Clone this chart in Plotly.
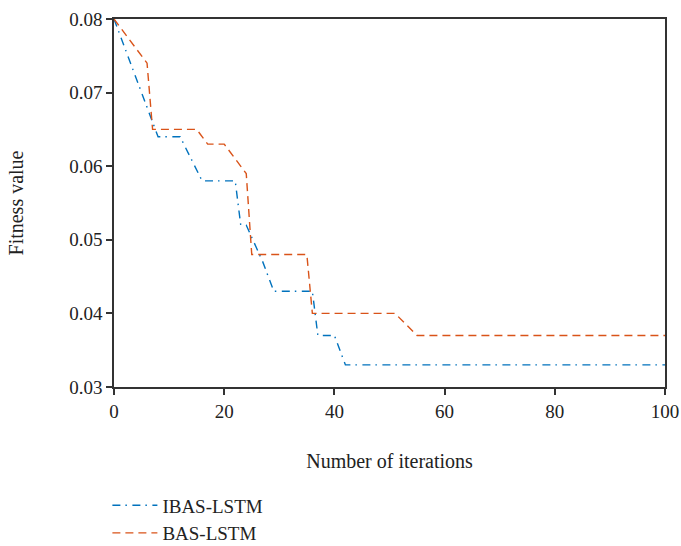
import plotly.graph_objects as go

ibas_x = [0, 8, 12, 16, 22, 23, 24, 27, 29, 36, 37, 40, 42, 100]
ibas_y = [0.080, 0.064, 0.064, 0.058, 0.058, 0.052, 0.052, 0.047, 0.043, 0.043, 0.037, 0.037, 0.033, 0.033]

bas_x = [0, 6, 7, 15, 17, 20, 24, 25, 35, 36, 51, 55, 100]
bas_y = [0.080, 0.074, 0.065, 0.065, 0.063, 0.063, 0.059, 0.048, 0.048, 0.040, 0.040, 0.037, 0.037]

x_ticks = [0, 20, 40, 60, 80, 100]
y_ticks = [0.03, 0.04, 0.05, 0.06, 0.07, 0.08]

FONT = "Liberation Serif"

fig = go.Figure()
fig.add_trace(go.Scatter(x=ibas_x, y=ibas_y, mode="lines", name="IBAS-LSTM",
                         line=dict(color="#0072BD", width=1.4, dash="8px,5px,1.5px,5.5px")))
fig.add_trace(go.Scatter(x=bas_x, y=bas_y, mode="lines", name="BAS-LSTM",
                         line=dict(color="#D95319", width=1.4, dash="8px,5px")))

axis_common = dict(showline=True, linecolor="#333333", linewidth=1.5, mirror=True,
                   ticks="outside", ticklen=6, tickcolor="#333333", tickwidth=1.5,
                   showgrid=False, zeroline=False, automargin=False,
                   tickfont=dict(family=FONT, size=19, color="#222222"))

fig.update_layout(
    width=681, height=546,
    margin=dict(l=114, r=16, t=19, b=159, autoexpand=False),
    paper_bgcolor="white", plot_bgcolor="white",
    font=dict(family=FONT, size=20, color="#222222"),
    xaxis=dict(range=[0, 100], tickvals=x_ticks, ticktext=[str(v) for v in x_ticks],
               title=dict(text="Number of iterations", font=dict(family=FONT, size=20), standoff=33),
               **axis_common),
    yaxis=dict(range=[0.03, 0.08], tickvals=y_ticks, ticktext=[f"{v:.2f}" for v in y_ticks],
               title=dict(text="Fitness value", font=dict(family=FONT, size=20), standoff=40),
               **axis_common),
    legend=dict(x=-0.012, xanchor="left", y=-0.27, yanchor="top",
                font=dict(family=FONT, size=19), bgcolor="rgba(0,0,0,0)",
                itemwidth=45),
    showlegend=True,
)

fig.write_html("out.html", config={"displayModeBar": False},
               post_script="document.body.style.margin='0px';")
